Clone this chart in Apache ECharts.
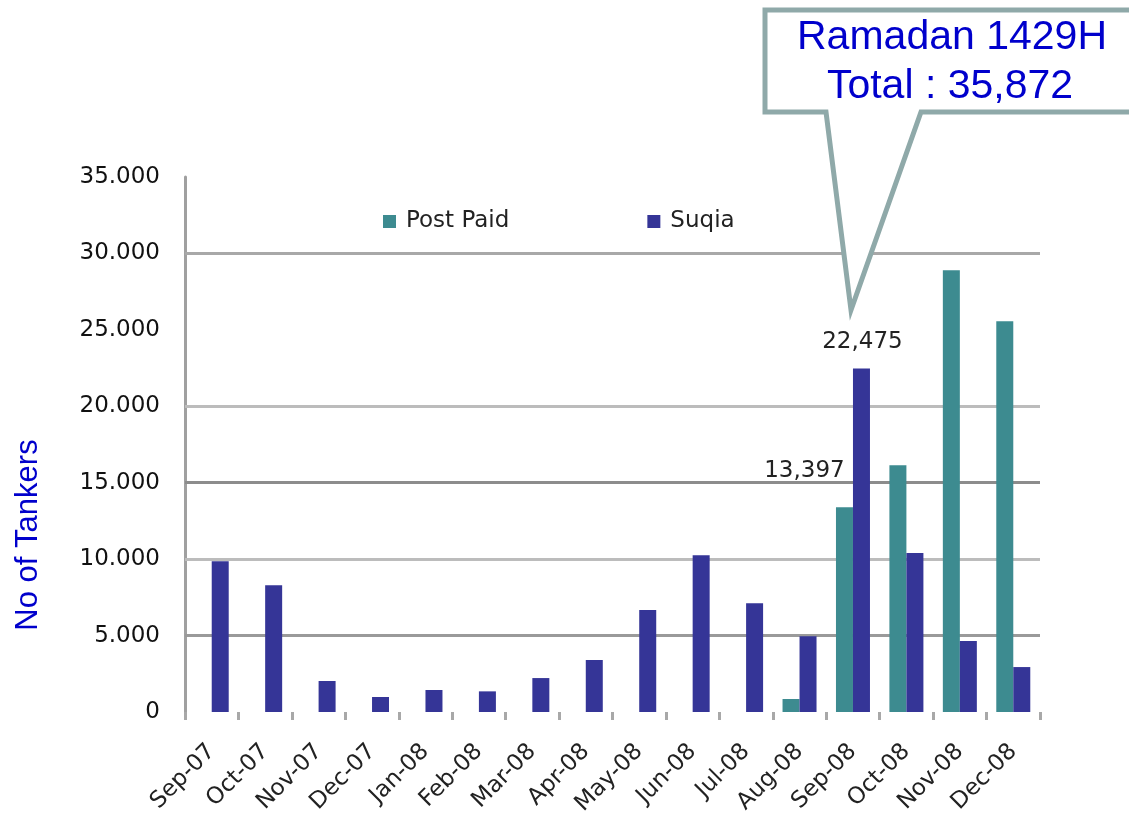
<!DOCTYPE html>
<html>
<head>
<meta charset="utf-8">
<script src="https://cdn.jsdelivr.net/npm/echarts@6/dist/echarts.min.js"></script>
<style>
  html, body { margin: 0; padding: 0; background: #fff; }
  #chart-box { width: 1129px; height: 817px; }
</style>
</head>
<body>
<div id="chart-box"></div>
<script>
const months = ['Sep-07', 'Oct-07', 'Nov-07', 'Dec-07', 'Jan-08', 'Feb-08', 'Mar-08', 'Apr-08',
  'May-08', 'Jun-08', 'Jul-08', 'Aug-08', 'Sep-08', 'Oct-08', 'Nov-08', 'Dec-08'];
const postPaid = [null, null, null, null, null, null, null, null,
  null, null, null, 850, 13397, 16140, 28900, 25560];
const suqia = [9870, 8300, 2030, 980, 1440, 1350, 2220, 3400,
  6670, 10260, 7120, 4950, 22475, 10410, 4640, 2940];
const gridValues = [5000, 10000, 15000, 20000, 30000];
const gridColors = ['#9a9a9a', '#bcbcbc', '#8c8c8c', '#bcbcbc', '#a8a8a8'];
const calloutLines = ['Ramadan 1429H', 'Total : 35,872'];

const font = 'DejaVu Sans';
const teal = '#3d8b90';
const blue = '#353597';

let chart = echarts.init(document.getElementById('chart-box'));

let options = {
  animation: false,
  textStyle: { fontFamily: font },
  legend: {
    data: ['Post Paid', 'Suqia'],
    left: 378,
    top: 205,
    icon: 'rect',
    itemWidth: 13,
    itemHeight: 13,
    itemGap: 138,
    textStyle: { fontSize: 23, color: '#222', fontFamily: font, padding: [0, 0, 0, 5] }
  },
  grid: {
    left: 185,
    right: 89,
    top: 177,
    bottom: 105,
    containLabel: false,
    outerBoundsMode: 'none'
  },
  xAxis: {
    type: 'category',
    data: months,
    axisLine: { show: false },
    axisTick: { show: true, length: 8, lineStyle: { color: '#a8a8a8', width: 3 } },
    axisLabel: { rotate: 45, fontSize: 23, color: '#222', margin: 36, interval: 0 }
  },
  yAxis: {
    type: 'value',
    min: 0,
    max: 35000,
    interval: 5000,
    axisLine: { show: true, lineStyle: { color: '#a0a0a0', width: 3 } },
    axisTick: { show: false },
    splitLine: { show: false },
    axisLabel: {
      fontSize: 23,
      color: '#111',
      margin: 25,
      formatter: (v) => v === 0 ? '0' : (v / 1000) + '.000'
    }
  },
  series: [
    {
      name: 'grid',
      type: 'line',
      data: [],
      silent: true,
      markLine: {
        z: 1,
        silent: true,
        symbol: 'none',
        label: { show: false },
        data: gridValues.map((v, i) => ({ yAxis: v, lineStyle: { color: gridColors[i], width: 3, type: 'solid' } }))
      }
    },
    {
      name: 'Post Paid',
      type: 'bar',
      data: postPaid.map((v, i) => i === 12
        ? { value: v, label: { show: true, position: 'top', offset: [-40, -20] } }
        : v),
      barWidth: 17,
      barGap: '0%',
      itemStyle: { color: teal },
      label: {
        show: false,
        fontSize: 23,
        color: '#222',
        formatter: (p) => p.value.toLocaleString('en-US')
      }
    },
    {
      name: 'Suqia',
      type: 'bar',
      data: suqia.map((v, i) => i === 12
        ? { value: v, label: { show: true, position: 'top', offset: [1, -10] } }
        : v),
      barWidth: 17,
      barGap: '0%',
      itemStyle: { color: blue },
      label: {
        show: false,
        fontSize: 23,
        color: '#222',
        formatter: (p) => p.value.toLocaleString('en-US')
      }
    }
  ],
  graphic: [
    {
      type: 'text',
      x: 28,
      y: 535,
      rotation: Math.PI / 2,
      style: {
        text: 'No of Tankers',
        fontSize: 31,
        fontFamily: 'Liberation Sans',
        fill: '#0000cc',
        align: 'center',
        verticalAlign: 'middle'
      }
    },
    {
      type: 'polygon',
      z: 10,
      shape: {
        points: [[765, 10], [1140, 10], [1140, 112], [921, 112], [851, 310], [826, 112], [765, 112]]
      },
      style: { fill: '#fff', stroke: '#8fa9a9', lineWidth: 5 }
    },
    {
      type: 'text',
      z: 11,
      x: 952,
      y: 38,
      style: {
        text: calloutLines[0],
        fontSize: 41,
        fontFamily: 'Liberation Sans',
        fill: '#0000cc',
        align: 'center',
        verticalAlign: 'middle'
      }
    },
    {
      type: 'text',
      z: 11,
      x: 950,
      y: 87,
      style: {
        text: calloutLines[1],
        fontSize: 41,
        fontFamily: 'Liberation Sans',
        fill: '#0000cc',
        align: 'center',
        verticalAlign: 'middle'
      }
    }
  ]
};

chart.setOption(options);
</script>
</body>
</html>
